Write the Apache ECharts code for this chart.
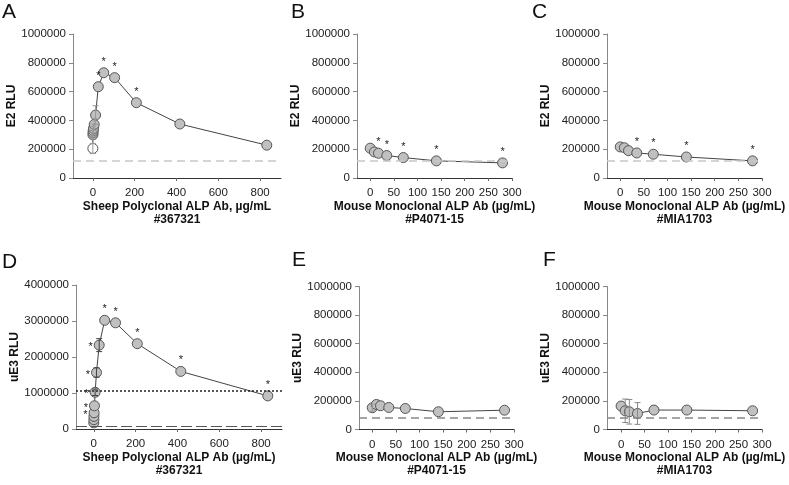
<!DOCTYPE html>
<html>
<head>
<meta charset="utf-8">
<script src="https://cdn.jsdelivr.net/npm/echarts@6/dist/echarts.min.js"></script>
<style>
  html, body { margin: 0; background: #fff; }
  #chart { width: 789px; height: 485px; }
</style>
</head>
<body>
<div id="chart"></div>
<script>
// concentrations (µg/mL)
const concSheep = [0, 0.4, 0.8, 1.6, 3.25, 6.5, 13, 26, 52, 104, 208, 416, 832];
const concMono = [0, 8.75, 17.5, 35, 70, 140, 280];

// A: E2, sheep polyclonal #367321
const e2Sheep = [205000, 300000, 315000, 330000, 345000, 372000, 437000, 634000, 731000, 697000, 523000, 375000, 228000];
const e2SheepErr = [35000, 30000, 30000, 30000, 30000, 40000, 65000, 0, 0, 0, 0, 0, 0];
const e2SheepStar = ['', '', '', '', '', '', '', 'T', 'T', 'T', 'T', '', ''];

// B: E2, mouse monoclonal #P4071-15
const e2P4071 = [207000, 181000, 172000, 156000, 142000, 119000, 105000];
const e2P4071Star = ['', '', 'T', 'T', 'T', 'T', 'T'];

// C: E2, mouse monoclonal #MIA1703
const e2MIA = [216000, 210000, 190000, 174000, 165000, 146000, 119000];
const e2MIAStar = ['', '', '', 'T', 'T', 'T', 'T'];

// D: uE3, sheep polyclonal #367321
const ue3Sheep = [170000, 260000, 350000, 450000, 645000, 1020000, 1570000, 2330000, 3020000, 2950000, 2370000, 1600000, 920000];
const ue3SheepErr = [0, 0, 0, 0, 0, 90000, 130000, 180000, 0, 0, 0, 0, 0];
const ue3SheepStar = ['', '', '', 'L', 'L', 'L', 'L', 'L', 'T', 'T', 'T', 'T', 'T'];

// E: uE3, mouse monoclonal #P4071-15
const ue3P4071 = [152000, 175000, 166000, 154000, 147000, 124000, 135000];
const ue3P4071Err = [25000, 0, 0, 0, 0, 0, 0];

// F: uE3, mouse monoclonal #MIA1703
const ue3MIA = [164000, 131000, 124000, 112000, 136000, 136000, 131000];
const ue3MIAErr = [0, 82000, 86000, 76000, 0, 0, 0];

// reference lines
const e2Cutoff = 117000;
const ue3Cutoff = 82000;
const ue3SheepHigh = 1064000;

const ticksSheep = [0, 200, 400, 600, 800];
const ticksMono = [0, 50, 100, 150, 200, 250, 300];

const FONT = 'Liberation Sans, Arial, sans-serif';

const panels = [
  { letter: 'A', lx: 2, ly: 2, grid: { left: 73, top: 34, width: 208, height: 144 },
    xmin: -95, xmax: 900, ticks: ticksSheep, ymax: 1000000, yint: 200000, yname: 'E2 RLU',
    xname: 'Sheep Polyclonal ALP Ab, \u00b5g/mL\n#367321',
    conc: concSheep, vals: e2Sheep, err: e2SheepErr, stars: e2SheepStar, errColor: '#999',
    lines: [{ v: e2Cutoff, color: '#c8c8c8', type: [8, 5], width: 1.5 }] },
  { letter: 'B', lx: 291, ly: 2, grid: { left: 357, top: 34, width: 155, height: 144 },
    xmin: -28, xmax: 300, ticks: ticksMono, ymax: 1000000, yint: 200000, yname: 'E2 RLU',
    xname: 'Mouse Monoclonal ALP Ab (\u00b5g/mL)\n#P4071-15',
    conc: concMono, vals: e2P4071, err: null, stars: e2P4071Star,
    lines: [{ v: e2Cutoff, color: '#c8c8c8', type: [8, 5], width: 1.5 }] },
  { letter: 'C', lx: 532, ly: 2, grid: { left: 607, top: 34, width: 155, height: 144 },
    xmin: -28, xmax: 300, ticks: ticksMono, ymax: 1000000, yint: 200000, yname: 'E2 RLU',
    xname: 'Mouse Monoclonal ALP Ab (\u00b5g/mL)\n#MIA1703',
    conc: concMono, vals: e2MIA, err: null, stars: e2MIAStar,
    lines: [{ v: e2Cutoff, color: '#c8c8c8', type: [8, 5], width: 1.5 }] },
  { letter: 'D', lx: 2, ly: 252, grid: { left: 76, top: 285, width: 206, height: 144 },
    xmin: -85, xmax: 900, ticks: ticksSheep, ymax: 4000000, yint: 1000000, yname: 'uE3 RLU',
    xname: 'Sheep Polyclonal ALP Ab (\u00b5g/mL)\n#367321',
    conc: concSheep, vals: ue3Sheep, err: ue3SheepErr, stars: ue3SheepStar, errColor: '#444',
    lines: [{ v: ue3SheepHigh, color: '#222', type: [2, 2], width: 1.5 },
            { v: ue3Cutoff, color: '#555', type: [11, 4], width: 1.2 }] },
  { letter: 'E', lx: 292, ly: 250, grid: { left: 359, top: 286.5, width: 155, height: 143 },
    xmin: -28, xmax: 300, ticks: ticksMono, ymax: 1000000, yint: 200000, yname: 'uE3 RLU',
    xname: 'Mouse Monoclonal ALP Ab (\u00b5g/mL)\n#P4071-15',
    conc: concMono, vals: ue3P4071, err: ue3P4071Err, stars: null, errColor: '#999',
    lines: [{ v: ue3Cutoff, color: '#888', type: [8, 5], width: 1.5 }] },
  { letter: 'F', lx: 543, ly: 250, grid: { left: 607, top: 286.5, width: 155, height: 143 },
    xmin: -30, xmax: 300, ticks: ticksMono, ymax: 1000000, yint: 200000, yname: 'uE3 RLU',
    xname: 'Mouse Monoclonal ALP Ab (\u00b5g/mL)\n#MIA1703',
    conc: concMono, vals: ue3MIA, err: ue3MIAErr, stars: null, errColor: '#888',
    lines: [{ v: ue3Cutoff, color: '#888', type: [8, 5], width: 1.5 }] }
];

const grids = [], xAxes = [], yAxes = [], series = [], graphics = [];

panels.forEach(function (p, i) {
  grids.push(p.grid);
  xAxes.push({
    gridIndex: i, type: 'value', min: p.xmin, max: p.xmax,
    name: p.xname, nameLocation: 'middle', nameGap: 21,
    nameTextStyle: { fontFamily: FONT, fontWeight: 'bold', fontSize: 12, color: '#111', lineHeight: 13 },
    axisLine: { show: true, onZero: false, lineStyle: { color: '#333', width: 1 } },
    axisTick: { show: true, customValues: p.ticks, length: 3, lineStyle: { color: '#666' } },
    axisLabel: { customValues: p.ticks, fontFamily: FONT, fontSize: 11.5, color: '#222', margin: 9 },
    splitLine: { show: false }
  });
  yAxes.push({
    gridIndex: i, type: 'value', min: 0, max: p.ymax, interval: p.yint,
    name: p.yname, nameLocation: 'middle', nameGap: 54, nameRotate: 90,
    nameTextStyle: { fontFamily: FONT, fontWeight: 'bold', fontSize: 12, color: '#111' },
    axisLine: { show: true, onZero: false, lineStyle: { color: '#888', width: 1 } },
    axisTick: { show: true, length: 4, lineStyle: { color: '#888' } },
    axisLabel: {
      fontFamily: FONT, fontSize: 11.5, color: '#222', margin: 7,
      formatter: function (v) { return String(v); }
    },
    splitLine: { show: false }
  });

  const data = p.conc.map(function (c, k) {
    const item = { value: [c, p.vals[k]] };
    const s = p.stars ? p.stars[k] : '';
    if (s === 'T') {
      item.label = { show: true, position: 'top', distance: 0 };
    } else if (s === 'L') {
      item.label = { show: true, position: 'left', distance: 1, offset: [0, 2] };
    }
    if (i === 0 && k === 0) item.itemStyle = { color: '#fff' };
    return item;
  });

  series.push({
    type: 'line', xAxisIndex: i, yAxisIndex: i, data: data,
    symbol: 'circle', symbolSize: 10, showSymbol: true, z: 3,
    itemStyle: { color: '#c0c0c0', borderColor: '#555', borderWidth: 1 },
    lineStyle: { color: '#444', width: 1 },
    label: { show: false, formatter: '*', fontFamily: FONT, fontSize: 11, color: '#222' },
    emphasis: { disabled: true },
    markLine: {
      silent: true, symbol: ['none', 'none'], label: { show: false },
      data: p.lines.map(function (l) {
        return { yAxis: l.v, lineStyle: { color: l.color, type: l.type, width: l.width } };
      })
    }
  });

  if (p.err) {
    const errData = [];
    p.conc.forEach(function (c, k) {
      if (p.err[k] > 0) errData.push([c, p.vals[k], p.err[k]]);
    });
    series.push({
      type: 'custom', xAxisIndex: i, yAxisIndex: i, z: 4, data: errData,
      renderItem: function (params, api) {
        const x = api.value(0), y = api.value(1), e = api.value(2);
        const hi = api.coord([x, y + e]);
        const lo = api.coord([x, y - e]);
        const st = { stroke: p.errColor, lineWidth: 1 };
        return {
          type: 'group',
          children: [
            { type: 'line', shape: { x1: hi[0], y1: hi[1], x2: lo[0], y2: lo[1] }, style: st },
            { type: 'line', shape: { x1: hi[0] - 3, y1: hi[1], x2: hi[0] + 3, y2: hi[1] }, style: st },
            { type: 'line', shape: { x1: lo[0] - 3, y1: lo[1], x2: lo[0] + 3, y2: lo[1] }, style: st }
          ]
        };
      }
    });
  }

  graphics.push({
    type: 'text', left: p.lx, top: p.ly,
    style: { text: p.letter, font: '21px ' + FONT, fill: '#111' }
  });
});

const chart = echarts.init(document.getElementById('chart'));
chart.setOption({
  animation: false,
  backgroundColor: '#fff',
  grid: grids,
  xAxis: xAxes,
  yAxis: yAxes,
  series: series,
  graphic: graphics
});
</script>
</body>
</html>
